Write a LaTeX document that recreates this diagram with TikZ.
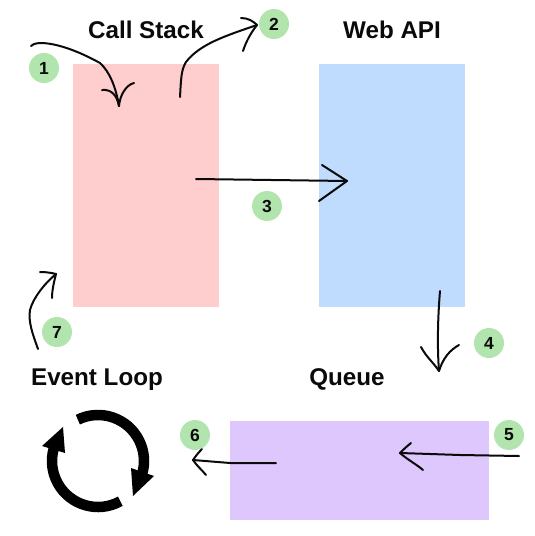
\documentclass[tikz,border=0pt]{standalone}
\usepackage{fontspec}
\setmainfont{Liberation Sans}
\tikzset{
  x=1pt,y=-1pt,
  box/.style={draw=none,inner sep=0pt,anchor=north west},
  badge/.style={circle,fill=badgegreen,minimum size=30pt,inner sep=0pt,font=\fontsize{17.5}{17.5}\selectfont\bfseries,text=ink},
  title/.style={font=\fontsize{24.2}{24.2}\selectfont\bfseries,text=ink,inner sep=0pt,anchor=base},
  ink line/.style={draw=ink,line width=2pt,line cap=round,line join=round},
  loop/.style={draw=black,line width=10.5pt,line cap=butt},
}
\definecolor{ink}{HTML}{0A0A0A}
\definecolor{pinkbox}{HTML}{FECDCD}
\definecolor{bluebox}{HTML}{BFDCFE}
\definecolor{purplebox}{HTML}{DDC7FD}
\definecolor{badgegreen}{HTML}{B2E5AE}
\begin{document}
\begin{tikzpicture}
\useasboundingbox (0,0) rectangle (535,536);
% boxes
\node[box,fill=pinkbox,minimum width=146pt,minimum height=243pt] (stack) at (73,64) {};
\node[box,fill=bluebox,minimum width=146pt,minimum height=243pt] (api) at (319,64) {};
\node[box,fill=purplebox,minimum width=259pt,minimum height=99pt] (queue) at (230,421) {};
% titles
\node[title] (tstack) at (146,38) {Call Stack};
\node[title] (tapi) at (392,38) {Web API};
\node[title] (tloop) at (97,385) {Event Loop};
\node[title] (tqueue) at (347,385) {Queue};
% badges
\node[badge] (b1) at (44,68) {1};
\node[badge] (b2) at (274,24) {2};
\node[badge] (b3) at (267,206) {3};
\node[badge] (b4) at (489,343) {4};
\node[badge] (b5) at (509,435) {5};
\node[badge] (b6) at (195,435) {6};
\node[badge] (b7) at (57,332) {7};
% arrow end points
\coordinate (a1s) at (31,46);  \coordinate (a1t) at (119,106);
\coordinate (a2s) at (180,97); \coordinate (a2t) at (257,25);
\coordinate (a3s) at (196,179);\coordinate (a3t) at (347,181);
\coordinate (a4s) at (440,291);\coordinate (a4t) at (439,371);
\coordinate (a5s) at (519,456);\coordinate (a5t) at (400,453);
\coordinate (a6s) at (276,463);\coordinate (a6t) at (193,460);
\coordinate (a7s) at (38,349); \coordinate (a7t) at (56,274);
% arrow 1
\draw[ink line] (a1s) .. controls (36,40) and (62,42) .. (100,63) .. controls (110,72) and (116,88) .. (a1t);
\draw[ink line] (102,90) .. controls (112,89) and (117,96) .. (a1t) .. controls (120,95) and (126,85) .. (134,83);
% arrow 2
\draw[ink line] (a2s) .. controls (181,80) and (181,70) .. (186,62) .. controls (200,44) and (225,36) .. (a2t);
\draw[ink line] (241,18) .. controls (248,18) and (253,21) .. (a2t) .. controls (250,34) and (246,42) .. (243,51);
% arrow 3
\draw[ink line] (a3s) -- (a3t);
\draw[ink line] (322,165) -- (a3t) -- (319,201);
% arrow 4
\draw[ink line] (a4s) .. controls (438,315) and (437,345) .. (a4t);
\draw[ink line] (421,347) .. controls (427,358) and (433,362) .. (a4t) .. controls (443,358) and (450,350) .. (459,345);
% arrow 5
\draw[ink line] (a5s) -- (460,455) -- (a5t);
\draw[ink line] (411,443) .. controls (406,447) and (403,450) .. (a5t) .. controls (408,460) and (416,464) .. (423,470);
% arrow 6
\draw[ink line] (a6s) -- (230,463) -- (a6t);
\draw[ink line] (202,449) .. controls (198,453) and (195,457) .. (a6t) .. controls (197,466) and (202,470) .. (206,475);
% arrow 7
\draw[ink line] (a7s) .. controls (33,335) and (28,322) .. (30,310) .. controls (33,298) and (45,283) .. (a7t);
\draw[ink line] (40,272) .. controls (47,272) and (52,273) .. (a7t) .. controls (54,282) and (52,290) .. (52,298);
% event loop icon
\draw[loop] (98,461) ++(-116:46) arc[start angle=-116,end angle=16,radius=46];
\draw[loop] (98,461) ++(61:46) arc[start angle=61,end angle=196,radius=46];
\fill[black] (131,468) -- (154,476) -- (133,496) -- cycle;
\fill[black] (42,446) -- (63,427) -- (65,453) -- cycle;
\end{tikzpicture}
\end{document}
